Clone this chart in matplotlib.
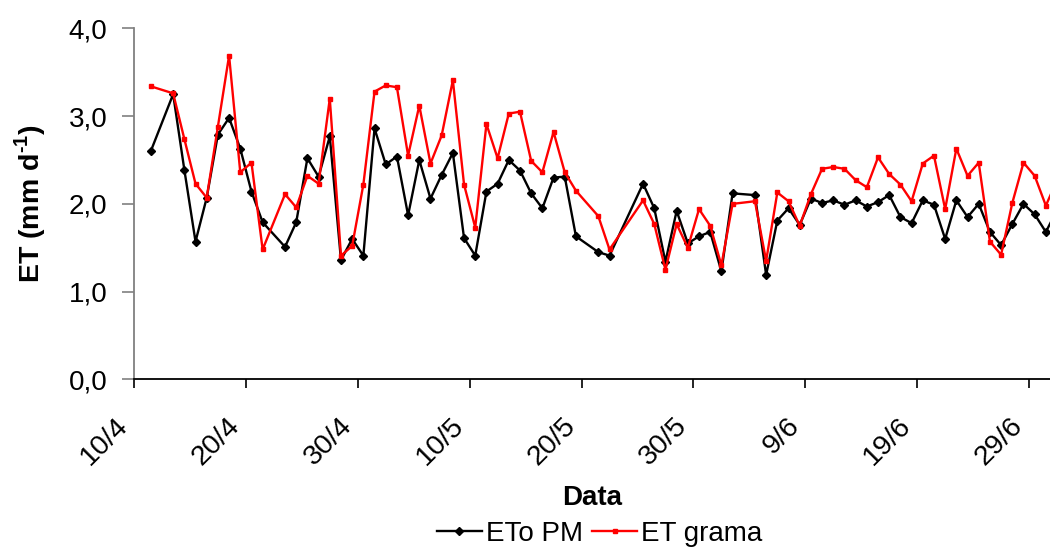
import matplotlib
matplotlib.use("Agg")
import matplotlib.pyplot as plt
from matplotlib.ticker import FixedLocator, FuncFormatter
from matplotlib.transforms import ScaledTranslation
from datetime import datetime

plt.rcParams['font.family'] = ['Liberation Sans', 'DejaVu Sans']
plt.rcParams['mathtext.fontset'] = 'custom'
plt.rcParams['mathtext.rm'] = 'Liberation Sans:bold'
plt.rcParams['mathtext.bf'] = 'Liberation Sans:bold'

# Measurement dates (dd/mm)
dates = ["11/04", "13/04", "14/04", "15/04", "16/04", "17/04", "18/04", "19/04", "20/04", "21/04",
         "23/04", "24/04", "25/04", "26/04", "27/04", "28/04", "29/04", "30/04", "01/05", "02/05",
         "03/05", "04/05", "05/05", "06/05", "07/05", "08/05", "09/05", "10/05", "11/05", "12/05",
         "13/05", "14/05", "15/05", "16/05", "17/05", "18/05", "19/05", "21/05", "22/05", "25/05",
         "26/05", "27/05", "28/05", "29/05", "30/05", "31/05", "01/06", "02/06", "04/06", "05/06",
         "06/06", "07/06", "08/06", "09/06", "10/06", "11/06", "12/06", "13/06", "14/06", "15/06",
         "16/06", "17/06", "18/06", "19/06", "20/06", "21/06", "22/06", "23/06", "24/06", "25/06",
         "26/06", "27/06", "28/06", "29/06", "30/06", "01/07"]

# Reference evapotranspiration, Penman-Monteith (mm/d)
eto_pm = [2.60, 3.25, 2.39, 1.57, 2.07, 2.79, 2.98, 2.63, 2.14, 1.79,
          1.51, 1.79, 2.52, 2.31, 2.77, 1.36, 1.60, 1.41, 2.86, 2.45,
          2.54, 1.87, 2.50, 2.06, 2.33, 2.58, 1.61, 1.41, 2.14, 2.23,
          2.50, 2.38, 2.12, 1.95, 2.30, 2.31, 1.63, 1.45, 1.41, 2.23,
          1.95, 1.34, 1.92, 1.55, 1.63, 1.68, 1.23, 2.12, 2.10, 1.19,
          1.81, 1.95, 1.76, 2.06, 2.01, 2.04, 1.99, 2.04, 1.97, 2.02,
          2.10, 1.85, 1.78, 2.04, 1.99, 1.60, 2.04, 1.85, 2.00, 1.68,
          1.53, 1.77, 2.00, 1.88, 1.68, 1.93]

# Grass evapotranspiration (mm/d)
et_grama = [3.34, 3.26, 2.74, 2.23, 2.07, 2.88, 3.69, 2.36, 2.47, 1.48,
            2.11, 1.96, 2.32, 2.23, 3.20, 1.41, 1.52, 2.22, 3.28, 3.35,
            3.33, 2.55, 3.12, 2.46, 2.78, 3.41, 2.22, 1.73, 2.91, 2.52,
            3.03, 3.05, 2.49, 2.36, 2.82, 2.36, 2.15, 1.86, 1.48, 2.04,
            1.77, 1.25, 1.77, 1.50, 1.94, 1.75, 1.30, 2.00, 2.03, 1.35,
            2.13, 2.03, 1.75, 2.11, 2.40, 2.42, 2.40, 2.27, 2.19, 2.53,
            2.34, 2.22, 2.03, 2.46, 2.55, 1.94, 2.63, 2.32, 2.47, 1.57,
            1.42, 2.01, 2.47, 2.32, 1.98, 2.27]

tick_labels = ["10/4", "20/4", "30/4", "10/5", "20/5", "30/5", "9/6", "19/6", "29/6"]
y_ticks = [0.0, 1.0, 2.0, 3.0, 4.0]

YEAR = "2001"
start = datetime.strptime("10/04/" + YEAR, "%d/%m/%Y")


def day_index(s):
    return (datetime.strptime(s + "/" + YEAR, "%d/%m/%Y") - start).days


# each day occupies one unit; points sit at the middle of their day
x = [day_index(d) + 0.5 for d in dates]
tick_pos = [day_index("%02d/%02d" % tuple(int(p) for p in t.split("/"))) for t in tick_labels]

fig = plt.figure(figsize=(10.5, 5.54), dpi=100)
ax = fig.add_axes([0.1276, 0.3153, 0.8724, 0.6334])

ax.plot(x, eto_pm, color="black", lw=1.7, marker="D", ms=4.0, label="ETo PM", zorder=3)
ax.plot(x, et_grama, color="#ff0000", lw=1.7, marker="s", ms=3.0, label="ET grama", zorder=4)

ax.set_xlim(0, 81.87)
ax.set_ylim(0, 4.0)

ax.yaxis.set_major_locator(FixedLocator(y_ticks))
ax.yaxis.set_major_formatter(FuncFormatter(lambda v, p: ("%.1f" % v).replace(".", ",")))
ax.tick_params(axis="y", labelsize=20, length=9, width=1.2, color="#808080", direction="out", pad=10)
ax.tick_params(axis="x", length=6.5, width=1.2, color="black", direction="out", pad=24)

ax.xaxis.set_major_locator(FixedLocator(tick_pos))
ax.set_xticklabels(tick_labels, rotation=45, ha="right", va="center",
                   rotation_mode="anchor", fontsize=20.5)
shift = ScaledTranslation(-10 / 100, 0, fig.dpi_scale_trans)
for lbl in ax.get_xticklabels():
    lbl.set_transform(lbl.get_transform() + shift)

for side in ("top", "right"):
    ax.spines[side].set_visible(False)
ax.spines["left"].set_color("#808080")
ax.spines["left"].set_linewidth(1.3)
ax.spines["bottom"].set_color("black")
ax.spines["bottom"].set_linewidth(1.3)

ax.set_ylabel(r"ET (mm d$^{\text{-1}}$)", fontsize=20.5, fontweight="bold", labelpad=15)
ax.set_xlabel("Data", fontsize=20, fontweight="bold", labelpad=11)

fig.legend(loc="center", bbox_to_anchor=(0.571, 0.036), ncol=2, frameon=False, fontsize=20,
           handlelength=1.62, handletextpad=0.15, columnspacing=0.33, borderaxespad=0)

fig.savefig("out.png", dpi=100)
